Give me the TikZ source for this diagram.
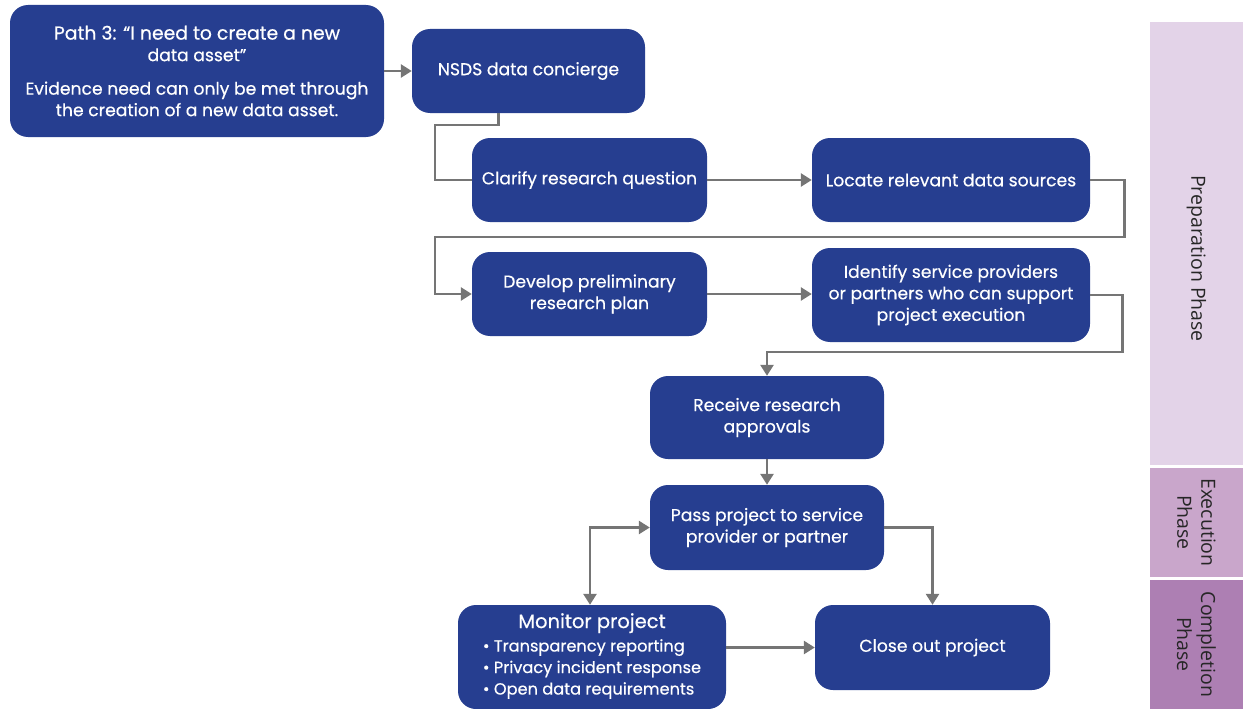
\documentclass[tikz,border=0pt]{standalone}
\usepackage{fontspec}
\setmainfont{Poppins}[FakeBold=0.5]
\newfontfamily\phasefont{Open Sans}
\usetikzlibrary{arrows.meta,calc}
\definecolor{boxblue}{RGB}{38,62,144}
\definecolor{conngray}{RGB}{117,117,117}
\definecolor{prepc}{RGB}{227,211,232}
\definecolor{execc}{RGB}{201,166,203}
\definecolor{compc}{RGB}{173,127,179}
\tikzset{
  x=1pt,y=-1pt,
  stepbox/.style={draw=none,fill=boxblue,rounded corners=18pt,text=white,align=center,inner sep=0pt,font=\fontsize{17.2}{21.5}\selectfont},
  conn/.style={draw=conngray,line width=2.6pt},
  arr/.style={conn,-{Triangle[length=11pt,width=13pt]}},
  arrboth/.style={conn,{Triangle[length=11pt,width=13pt]}-{Triangle[length=11pt,width=13pt]}},
  phasebar/.style={draw=none,inner sep=0pt,minimum width=93pt},
  phaselabel/.style={rotate=-90,align=center,text=black!85,font=\phasefont\fontsize{19.5}{24}\selectfont},
}
\begin{document}
\begin{tikzpicture}
\useasboundingbox (0,0) rectangle (1243,709);
% phase bars
\node[phasebar,fill=prepc,minimum height=443pt] (prep) at (1196.5,243.5) {};
\node[phasebar,fill=execc,minimum height=109pt] (exec) at (1196.5,522.5) {};
\node[phasebar,fill=compc,minimum height=129pt] (comp) at (1196.5,644.5) {};
\node[phaselabel] (prepl) at ([yshift=-15pt]prep.center) {Preparation Phase};
\node[phaselabel] (execl) at (exec.center) {Execution\\Phase};
\node[phaselabel] (compl) at (comp.center) {Completion\\Phase};
% boxes
\node[stepbox,minimum width=374pt,minimum height=132pt] (pathbox) at (197,71) {\fontsize{18.8}{23}\selectfont Path 3: “I need to create a new\\data asset”\\[12pt]\fontsize{17.2}{22}\selectfont Evidence need can only be met through\\the creation of a new data asset.};
\node[stepbox,minimum width=233pt,minimum height=84pt] (nsds) at (528.5,71) {NSDS data concierge};
\node[stepbox,minimum width=235pt,minimum height=84pt] (clar) at (589.5,180) {Clarify research question};
\node[stepbox,minimum width=278pt,minimum height=84pt] (loc) at (951,180) {Locate relevant data sources};
\node[stepbox,minimum width=235pt,minimum height=84pt] (dev) at (589.5,294) {Develop preliminary\\research plan};
\node[stepbox,minimum width=278pt,minimum height=94pt] (iden) at (951,295) {Identify service providers\\or partners who can support\\project execution};
\node[stepbox,minimum width=234pt,minimum height=83pt] (recv) at (767,417.5) {Receive research\\approvals};
\node[stepbox,minimum width=234pt,minimum height=85pt] (pass) at (767,527.5) {Pass project to service\\provider or partner};
\node[stepbox,minimum width=268pt,minimum height=104pt] (mon) at (592,657) {\fontsize{16.2}{21.5}\selectfont\begin{tabular}{@{}l@{}}\multicolumn{1}{c}{\fontsize{19.5}{22}\selectfont Monitor project}\\[2pt] • Transparency reporting\\ • Privacy incident response\\ • Open data requirements\end{tabular}};
\node[stepbox,minimum width=235pt,minimum height=85pt] (close) at (932.5,647.5) {Close out project};
% connectors
\draw[arr] (pathbox.east) -- (nsds.west);
\draw[conn] ([xshift=-30pt]nsds.south) |- (435,125) |- (clar.west);
\draw[arr] (clar.east) -- (loc.west);
\draw[arr] (loc.east) -- ++(34,0) |- (435,237) |- (dev.west);
\draw[arr] (dev.east) -- (dev.east -| iden.west);
\draw[arr] (iden.east) -- ++(32,0) |- ($(recv.north)+(0,-24)$) -- (recv.north);
\draw[arr] (recv.south) -- (pass.north);
\draw[arr] (pass.east) -| (close.north);
\draw[arrboth] ([xshift=-2pt]mon.north) |- (pass.west);
\draw[arr] (close.west -| mon.east) -- (close.west);
\end{tikzpicture}
\end{document}
